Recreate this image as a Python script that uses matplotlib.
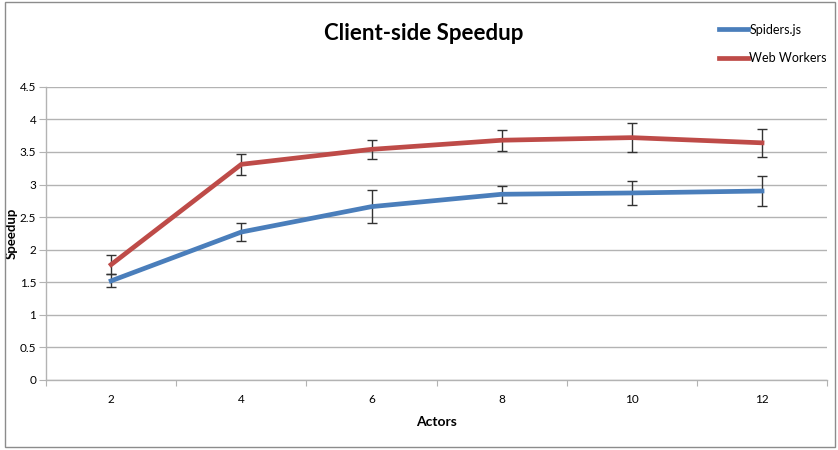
import numpy as np
import matplotlib.pyplot as plt
from matplotlib.patches import Rectangle

plt.rcParams['font.family'] = ['Lato', 'DejaVu Sans']

actors = ["2", "4", "6", "8", "10", "12"]
spiders = [1.52, 2.27, 2.66, 2.85, 2.87, 2.90]
spiders_err = [0.10, 0.14, 0.25, 0.13, 0.19, 0.23]
workers = [1.77, 3.31, 3.54, 3.68, 3.72, 3.64]
workers_err = [0.14, 0.16, 0.15, 0.16, 0.22, 0.22]
yticks = [0, 0.5, 1, 1.5, 2, 2.5, 3, 3.5, 4, 4.5]

blue = "#4a7ebb"
red = "#be4b48"
grid = "#b3b3b3"


def main():
    fig = plt.figure(figsize=(8.38, 4.5), dpi=100)
    ax = fig.add_axes([0.055, 0.156, 0.932, 0.651])
    x = np.arange(len(actors))

    ax.errorbar(x, spiders, yerr=spiders_err, color=blue, lw=3.4, ecolor="#333333",
                elinewidth=1, capsize=3.5, capthick=1, zorder=3, label="Spiders.js")
    ax.errorbar(x, workers, yerr=workers_err, color=red, lw=3.4, ecolor="#333333",
                elinewidth=1, capsize=3.5, capthick=1, zorder=3, label="Web Workers")

    ax.set_ylim(0, 4.5)
    ax.set_yticks(yticks)
    ax.set_yticklabels(["{:g}".format(v) for v in yticks], fontsize=8.5)
    ax.set_xlim(-0.5, len(actors) - 0.5)
    ax.set_xticks(np.arange(-0.5, len(actors)))
    ax.set_xticklabels([])
    ax.set_xticks(x, minor=True)
    ax.set_xticklabels(actors, minor=True, fontsize=8.5)
    ax.tick_params(axis="x", which="major", length=4, color=grid, direction="out")
    ax.tick_params(axis="x", which="minor", length=0, pad=10)
    ax.tick_params(axis="y", length=5, color=grid, pad=2)

    ax.grid(axis="y", color=grid, lw=1)
    ax.set_axisbelow(True)
    for side in ["top", "right"]:
        ax.spines[side].set_visible(False)
    for side in ["left", "bottom"]:
        ax.spines[side].set_color(grid)
        ax.spines[side].set_linewidth(1)

    ax.set_xlabel("Actors", fontsize=10, fontweight="bold", labelpad=8)
    ax.set_ylabel("Speedup", fontsize=9.5, fontweight="bold")
    ax.yaxis.set_label_coords(-0.037, 0.5)

    fig.text(0.506, 0.925, "Client-side Speedup", ha="center", va="center",
             fontsize=16, fontweight="bold")

    handles, labels = ax.get_legend_handles_labels()
    handles = [h[0] for h in handles]
    fig.legend(handles, labels, loc="upper left", bbox_to_anchor=(0.845, 0.972),
               frameon=False, fontsize=9, handlelength=2.3, handletextpad=0.1,
               labelspacing=1.3)

    fig.patches.append(Rectangle((0.006, 0.006), 0.99, 0.99, transform=fig.transFigure,
                                 fill=False, edgecolor="#8c8c8c", lw=1))

    fig.savefig("out.png", dpi=100)


if __name__ == "__main__":
    main()
